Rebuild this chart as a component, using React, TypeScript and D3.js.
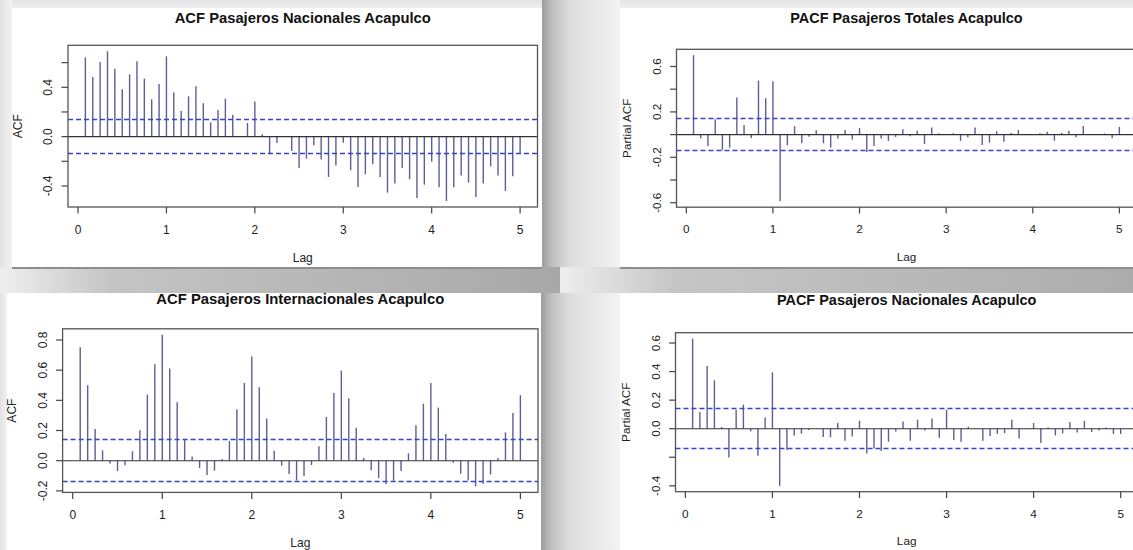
import React from 'react';
import * as d3 from 'd3';

// ---------- data ----------
const lagIndex = d3.range(1, 61); // lag k, plotted at k/12 (seasonal periods)
const xTicks = [0, 1, 2, 3, 4, 5];
const ciBound = 0.139;

const acfNacionales = [
  0.643, 0.484, 0.605, 0.692, 0.551, 0.384, 0.505, 0.611, 0.470, 0.303, 0.427, 0.651,
  0.359, 0.208, 0.327, 0.408, 0.270, 0.116, 0.216, 0.308, 0.178, 0.004, 0.111, 0.284,
  0.019, -0.141, -0.051, 0.005, -0.116, -0.254, -0.178, -0.070, -0.186, -0.327, -0.235, -0.049,
  -0.273, -0.408, -0.305, -0.224, -0.327, -0.454, -0.381, -0.254, -0.346, -0.497, -0.389, -0.203,
  -0.411, -0.522, -0.411, -0.316, -0.373, -0.489, -0.381, -0.241, -0.316, -0.441, -0.322, -0.135,
];

const pacfTotales = [
  0.700, -0.035, -0.100, 0.135, -0.138, -0.115, 0.326, 0.085, -0.029, 0.476, 0.321, 0.471,
  -0.588, -0.094, 0.074, -0.076, -0.018, 0.038, -0.076, -0.115, -0.035, 0.041, -0.044, 0.059,
  -0.153, -0.100, -0.035, -0.056, -0.021, 0.047, -0.015, 0.035, -0.082, 0.062, 0.012, 0.003,
  0.012, -0.056, -0.024, 0.062, -0.091, -0.071, 0.029, -0.062, 0.015, 0.041, -0.004, 0.004,
  0.012, 0.026, -0.053, 0.015, 0.035, -0.024, 0.076, 0.003, -0.003, 0.009, -0.032, 0.068,
];

const acfInternacionales = [
  0.752, 0.500, 0.210, 0.069, -0.018, -0.069, -0.031, 0.062, 0.201, 0.438, 0.639, 0.834,
  0.611, 0.387, 0.139, 0.027, -0.049, -0.095, -0.066, 0.011, 0.131, 0.341, 0.515, 0.690,
  0.487, 0.279, 0.066, -0.033, -0.088, -0.131, -0.102, -0.029, 0.095, 0.290, 0.449, 0.597,
  0.414, 0.219, 0.018, -0.064, -0.115, -0.155, -0.133, -0.069, 0.049, 0.235, 0.378, 0.515,
  0.352, 0.177, -0.013, -0.086, -0.131, -0.170, -0.153, -0.091, 0.018, 0.188, 0.316, 0.434,
];

const pacfNacionales = [
  0.631, 0.117, 0.439, 0.339, 0.012, -0.201, 0.133, 0.168, -0.019, -0.189, 0.079, 0.395,
  -0.400, -0.150, -0.049, -0.035, -0.009, 0.002, -0.058, -0.058, 0.040, -0.084, -0.054, 0.056,
  -0.173, -0.138, -0.157, -0.091, -0.019, 0.051, -0.084, 0.063, -0.012, 0.072, -0.063, 0.133,
  -0.079, -0.091, 0.014, -0.002, -0.084, -0.051, -0.037, -0.030, 0.063, -0.068, 0.003, 0.040,
  -0.100, 0.009, -0.047, -0.033, 0.047, -0.026, 0.056, -0.023, -0.012, 0.009, -0.037, -0.037,
];

const titles = [
  'ACF Pasajeros Nacionales Acapulco',
  'PACF Pasajeros Totales Acapulco',
  'ACF Pasajeros Internacionales Acapulco',
  'PACF Pasajeros Nacionales Acapulco',
];
const yLabels = ['ACF', 'Partial ACF', 'ACF', 'Partial ACF'];

const yTicks1 = [-0.4, -0.2, 0, 0.2, 0.4, 0.6];
const yTickLabels1 = [-0.4, 0, 0.4];
const yTicks2 = [-0.6, -0.4, -0.2, 0, 0.2, 0.4, 0.6];
const yTickLabels2 = [-0.6, -0.2, 0.2, 0.6];
const yTicks3 = [-0.2, 0, 0.2, 0.4, 0.6, 0.8];
const yTickLabels3 = [-0.2, 0, 0.2, 0.4, 0.6, 0.8];
const yTicks4 = [-0.4, -0.2, 0, 0.2, 0.4, 0.6];
const yTickLabels4 = [-0.4, 0, 0.2, 0.4, 0.6];

// ---------- layout ----------
const W = 1133;
const H = 550;
const FONT = "'Liberation Sans', Arial, Helvetica, sans-serif";

type PanelCfg = {
  title: string; ylab: string; values: number[]; yTicks: number[]; yTickLabels: number[];
  left: number; right: number; top: number; bottom: number; titleY: number; s: number;
};

const panels: PanelCfg[] = [
  { title: titles[0], ylab: yLabels[0], values: acfNacionales, yTicks: yTicks1, yTickLabels: yTickLabels1,
    left: 68, right: 537.5, top: 45.3, bottom: 207, titleY: 22.5, s: 1.0 },
  { title: titles[1], ylab: yLabels[1], values: pacfTotales, yTicks: yTicks2, yTickLabels: yTickLabels2,
    left: 676.5, right: 1136.4, top: 49.3, bottom: 207.2, titleY: 22.7, s: 0.979 },
  { title: titles[2], ylab: yLabels[2], values: acfInternacionales, yTicks: yTicks3, yTickLabels: yTickLabels3,
    left: 62.6, right: 538, top: 328.8, bottom: 492.4, titleY: 304.3, s: 1.005 },
  { title: titles[3], ylab: yLabels[3], values: pacfNacionales, yTicks: yTicks4, yTickLabels: yTickLabels4,
    left: 675.5, right: 1137.8, top: 332.7, bottom: 491.7, titleY: 305, s: 0.98 },
];

const fmt = (v: number) => (Math.abs(v) < 1e-9 ? '0.0' : d3.format('.1f')(v).replace('−', '-'));
const snap = (v: number) => Math.round(v - 0.5) + 0.5;

function Panel({ p }: { p: PanelCfg }) {
  const lags = lagIndex.map((k) => k / 12);
  const [lx0, lx1] = d3.extent(lags) as [number, number];
  const xPad = (lx1 - lx0) * 0.04;
  const x = d3.scaleLinear().domain([lx0 - xPad, lx1 + xPad]).range([p.left, p.right]);
  const ymin = Math.min(d3.min(p.values) as number, -ciBound);
  const ymax = Math.max(d3.max(p.values) as number, ciBound);
  const yPad = (ymax - ymin) * 0.04;
  const y = d3.scaleLinear().domain([ymin - yPad, ymax + yPad]).range([p.bottom, p.top]);
  const fs = 12 * p.s;
  const cx = (p.left + p.right) / 2;
  const cy = (p.top + p.bottom) / 2;
  const spike = '#5d5d98';
  const ciCol = '#3f3fc8';
  return (
    <g fontFamily={FONT}>
      <text x={cx} y={p.titleY} textAnchor="middle" fontWeight="bold" fontSize={14.76 * p.s} fill="#111">
        {p.title}
      </text>
      {/* spikes */}
      {p.values.map((v, i) => (
        <line key={i} x1={x(lags[i])} x2={x(lags[i])} y1={y(0)} y2={y(v)} stroke={spike} strokeWidth={1.4} />
      ))}
      {/* zero line */}
      <line x1={p.left} x2={p.right} y1={y(0)} y2={y(0)} stroke="#333" strokeWidth={1.1} />
      {/* confidence bounds */}
      {[ciBound, -ciBound].map((c, i) => (
        <line key={i} x1={p.left} x2={p.right} y1={snap(y(c))} y2={snap(y(c))} stroke={ciCol}
          strokeWidth={1.3} strokeDasharray="5,3" />
      ))}
      {/* box */}
      <rect x={p.left} y={p.top} width={p.right - p.left} height={p.bottom - p.top} fill="none" stroke="#555" strokeWidth={1.3} />
      {/* x axis */}
      {xTicks.map((t) => (
        <g key={t}>
          <line x1={x(t)} x2={x(t)} y1={p.bottom} y2={p.bottom + 6.5 * p.s} stroke="#444" strokeWidth={1.2} />
          <text x={x(t)} y={p.bottom + 26.5 * p.s} textAnchor="middle" fontSize={fs} fill="#222">{t}</text>
        </g>
      ))}
      <text x={cx} y={p.bottom + 54.6 * p.s} textAnchor="middle" fontSize={fs} fill="#222">Lag</text>
      {/* y axis */}
      {p.yTicks.map((t) => (
        <line key={t} x1={p.left - 6.5 * p.s} x2={p.left} y1={y(t)} y2={y(t)} stroke="#444" strokeWidth={1.2} />
      ))}
      {p.yTickLabels.map((t) => (
        <text key={t} transform={`translate(${p.left - 16 * p.s},${y(t)}) rotate(-90)`} textAnchor="middle"
          fontSize={fs} fill="#222">{fmt(t)}</text>
      ))}
      <text transform={`translate(${p.left - 46 * p.s},${cy}) rotate(-90)`} textAnchor="middle" fontSize={fs} fill="#222">
        {p.ylab}
      </text>
    </g>
  );
}

export default function App() {
  return (
    <svg width={W} height={H} style={{ display: 'block', position: 'absolute', left: 0, top: 0 }}>
      <defs>
        <linearGradient id="gapCol" x1="0" x2="1" y1="0" y2="0">
          <stop offset="0" stopColor="#9c9c9c" />
          <stop offset="0.12" stopColor="#bdbdbd" />
          <stop offset="0.35" stopColor="#dddddd" />
          <stop offset="1" stopColor="#f3f3f3" />
        </linearGradient>
        <linearGradient id="gapRowL" x1="0" x2="1" y1="0" y2="0">
          <stop offset="0" stopColor="#efefef" />
          <stop offset="0.2" stopColor="#c4c4c4" />
          <stop offset="1" stopColor="#a8a8a8" />
        </linearGradient>
        <linearGradient id="gapRowR" x1="0" x2="1" y1="0" y2="0">
          <stop offset="0" stopColor="#eeeeee" />
          <stop offset="0.2" stopColor="#c6c6c6" />
          <stop offset="1" stopColor="#acacac" />
        </linearGradient>
        <linearGradient id="leftEdge" x1="0" x2="1" y1="0" y2="0">
          <stop offset="0" stopColor="#e2e2e2" />
          <stop offset="1" stopColor="#f2f2f2" />
        </linearGradient>
        <linearGradient id="topEdge" x1="0" x2="0" y1="0" y2="1">
          <stop offset="0" stopColor="#e4e4e4" />
          <stop offset="1" stopColor="#efefef" />
        </linearGradient>
      </defs>
      <rect x={0} y={0} width={W} height={H} fill="#ffffff" />
      {/* frame / shadow decorations */}
      <rect x={0} y={0} width={W} height={8} fill="url(#topEdge)" />
      <rect x={0} y={0} width={12} height={268} fill="url(#leftEdge)" />
      <rect x={0} y={293} width={7} height={257} fill="url(#leftEdge)" />
      <rect x={542} y={0} width={78} height={268} fill="url(#gapCol)" />
      <rect x={541} y={280} width={79} height={270} fill="url(#gapCol)" />
      <rect x={0} y={267} width={560} height={26} fill="url(#gapRowL)" />
      <rect x={560} y={267} width={573} height={26} fill="url(#gapRowR)" />
      <rect x={12} y={267} width={530} height={2} fill="#8e8e8e" />
      <rect x={620} y={267} width={513} height={2} fill="#8e8e8e" />
      {panels.map((p, i) => (
        <Panel key={i} p={p} />
      ))}
    </svg>
  );
}
